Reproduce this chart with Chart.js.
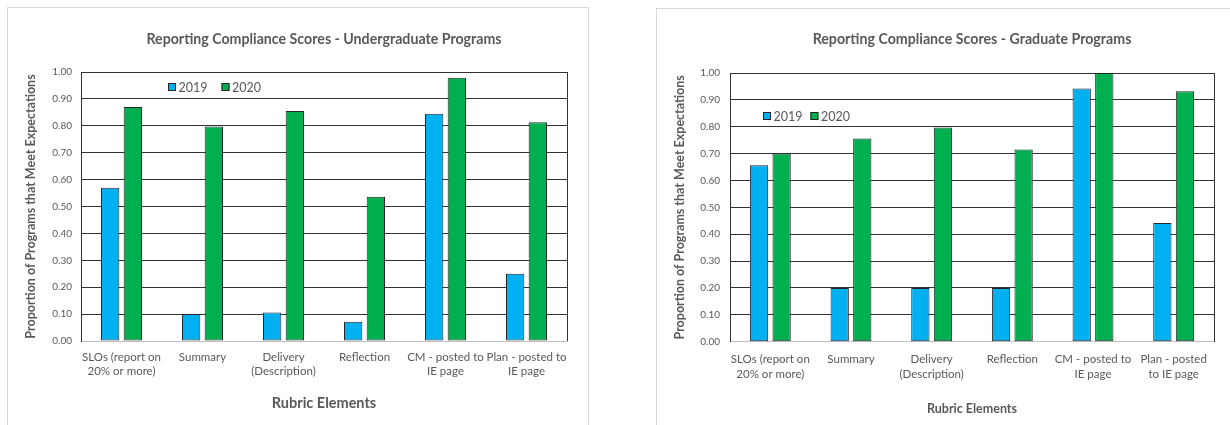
<!DOCTYPE html>
<html><head><meta charset="utf-8">
<script src="https://cdn.jsdelivr.net/npm/chart.js@4.4.0/dist/chart.umd.min.js"></script>
<style>
html,body{margin:0;padding:0;background:#fff;width:1230px;height:425px;overflow:hidden;}
.box{position:absolute;border:1px solid #d9d9d9;background:#fff;}
#boxL{left:7px;top:7px;width:580px;height:430px;}
#boxR{left:656px;top:8px;width:590px;height:430px;}
.wrap{position:absolute;left:0;top:0;}
#wrapL{width:580px;height:417px;}
#wrapR{width:573px;height:416px;}
</style></head>
<body>
<div class="box" id="boxL"><div class="wrap" id="wrapL"><canvas id="cL"></canvas></div></div>
<div class="box" id="boxR"><div class="wrap" id="wrapR"><canvas id="cR"></canvas></div></div>
<script>
// ---- data ----
const seriesLabels = ['2019', '2020'];
const categoriesUG = [['SLOs (report on','20% or more)'], 'Summary', ['Delivery','(Description)'], 'Reflection', ['CM - posted to','IE page'], ['Plan - posted to','IE page']];
const categoriesGR = [['SLOs (report on','20% or more)'], 'Summary', ['Delivery','(Description)'], 'Reflection', ['CM - posted to','IE page'], ['Plan - posted','to IE page']];
const ug2019 = [0.57, 0.10, 0.106, 0.072, 0.845, 0.25];
const ug2020 = [0.87, 0.797, 0.855, 0.536, 0.979, 0.813];
const gr2019 = [0.657, 0.20, 0.20, 0.20, 0.942, 0.442];
const gr2020 = [0.70, 0.756, 0.797, 0.715, 1.00, 0.932];
const titleUG = 'Reporting Compliance Scores - Undergraduate Programs';
const titleGR = 'Reporting Compliance Scores - Graduate Programs';
const xAxisTitle = 'Rubric Elements';
const yAxisTitle = 'Proportion of Programs that Meet Expectations';
const yMin = 0, yMax = 1, yStep = 0.1;

Chart.defaults.font.family = 'Lato';

const plotFrame = {
  id: 'plotFrame',
  afterDraw(chart) {
    const ctx = chart.ctx, ca = chart.chartArea;
    ctx.save();
    ctx.strokeStyle = '#333';
    ctx.lineWidth = 1;
    const x = Math.floor(ca.right) + 0.5;
    ctx.beginPath();
    ctx.moveTo(x, Math.floor(ca.top));
    ctx.lineTo(x, Math.ceil(ca.bottom));
    ctx.stroke();
    ctx.restore();
  }
};

const boxLegend = {
  id: 'boxLegend',
  afterDraw(chart, args, opts) {
    const ctx = chart.ctx, ca = chart.chartArea;
    let x = Math.round(ca.left + opts.x);
    const y = Math.round(ca.top + opts.y);
    ctx.save();
    ctx.font = '12.5px Lato';
    ctx.textBaseline = 'middle';
    ctx.textAlign = 'left';
    chart.data.datasets.forEach(ds => {
      ctx.fillStyle = ds.backgroundColor;
      ctx.fillRect(x, y - 4, 8, 8);
      ctx.strokeStyle = '#262626';
      ctx.lineWidth = 1;
      ctx.strokeRect(x + 0.5, y - 3.5, 7, 7);
      ctx.fillStyle = '#595959';
      ctx.fillText(ds.label, x + 10.5, y + 0.5);
      x += opts.step;
    });
    ctx.restore();
  }
};

function makeChart(id, labels, d19, d20, title, cfg) {
  const common = {borderColor: '#262626', borderWidth: 1, borderSkipped: false, categoryPercentage: 0.56, barPercentage: 0.81};
  return new Chart(document.getElementById(id), {
    type: 'bar',
    data: {
      labels: labels,
      datasets: [
        Object.assign({label: seriesLabels[0], data: d19, backgroundColor: '#00B0F0'}, common),
        Object.assign({label: seriesLabels[1], data: d20, backgroundColor: '#00B050'}, common)
      ]
    },
    options: {
      responsive: true, maintainAspectRatio: false, animation: false,
      layout: {padding: {left: 0, top: 0, right: cfg.padRight, bottom: 0}},
      plugins: {
        legend: {display: false},
        tooltip: {enabled: false},
        title: {display: true, text: title, fullSize: false, color: '#595959',
          font: {size: 14.2, weight: 'bold', lineHeight: 1.2},
          padding: {top: cfg.titlePadTop, bottom: cfg.titlePadBottom}},
        boxLegend: cfg.legend
      },
      scales: {
        x: {
          grid: {display: false, drawTicks: false},
          border: {display: true, color: '#bfbfbf', width: 1},
          ticks: {color: '#595959', font: {size: 11.5, lineHeight: cfg.xLineHeight}, padding: cfg.xTickPad, maxRotation: 0, autoSkip: false},
          title: {display: true, text: xAxisTitle, color: '#595959',
            font: {size: cfg.xTitleSize, weight: 'bold', lineHeight: 1.2},
            padding: {top: 0, bottom: cfg.xTitlePadBottom}},
          afterFit(s) { s.height = cfg.xHeight; }
        },
        y: {
          min: yMin, max: yMax,
          ticks: {stepSize: yStep, callback: v => Number(v).toFixed(2), color: '#595959', font: {size: 10}, padding: cfg.yTickPad},
          grid: {drawTicks: false, color: c => (c.tick && c.tick.value === 0) ? 'rgba(0,0,0,0)' : '#333', lineWidth: 1},
          border: {display: true, color: '#333', width: 1},
          title: {display: true, text: yAxisTitle, color: '#595959',
            font: {size: 12.5, weight: 'bold', lineHeight: 1.2},
            padding: {top: cfg.yTitlePadTop, bottom: 0}},
          afterFit(s) { s.width = 73; }
        }
      }
    },
    plugins: [plotFrame, boxLegend]
  });
}

function build() {
  makeChart('cL', categoriesUG, ug2019, ug2020, titleUG, {
    padRight: 21, titlePadTop: 22.5, titlePadBottom: 24.46,
    xHeight: 84, xTickPad: 8.8, xLineHeight: 1.24, xTitleSize: 14.5, xTitlePadBottom: 13.3,
    yTickPad: 9, yTitlePadTop: 15.5,
    legend: {x: 87, y: 15, step: 53.5}
  });
  makeChart('cR', categoriesGR, gr2019, gr2020, titleGR, {
    padRight: 16, titlePadTop: 21.5, titlePadBottom: 25.46,
    xHeight: 83.3, xTickPad: 10, xLineHeight: 1.3, xTitleSize: 12.5, xTitlePadBottom: 8.5,
    yTickPad: 10, yTitlePadTop: 15.5,
    legend: {x: 33.3, y: 42.7, step: 47.4}
  });
}
if (document.fonts && document.fonts.load) {
  Promise.all([document.fonts.load('12px Lato'), document.fonts.load('bold 12px Lato')]).then(build, build);
} else { build(); }
</script>
</body></html>
